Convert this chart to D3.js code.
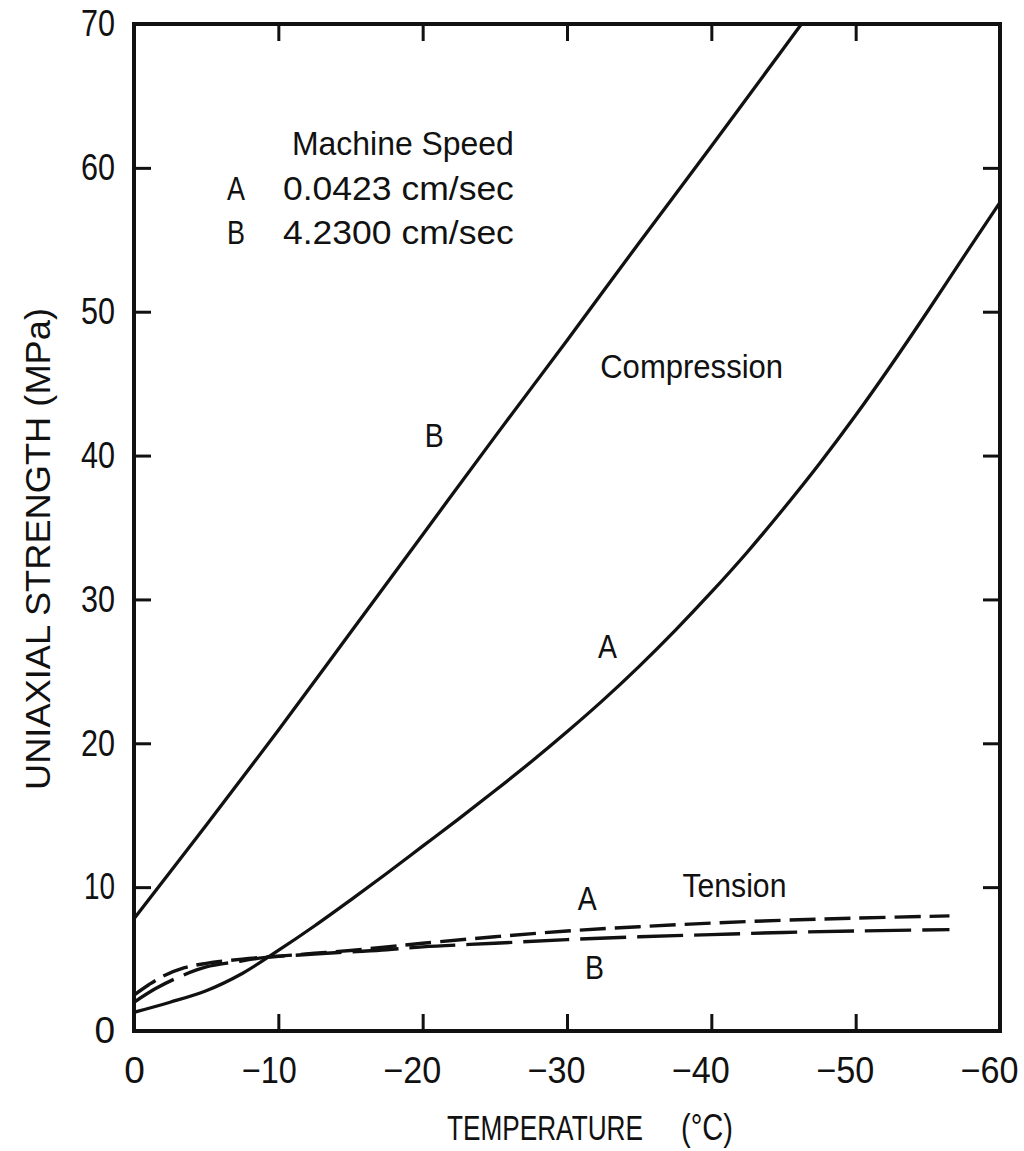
<!DOCTYPE html>
<html>
<head>
<meta charset="utf-8">
<script src="https://cdn.jsdelivr.net/npm/d3@7"></script>
<style>
  html, body { margin: 0; padding: 0; background: #fff; }
  svg { display: block; }
  text { font-family: "Liberation Sans Narrow", "Liberation Sans", Arial, sans-serif; fill: #111; }
</style>
</head>
<body>
<svg id="chart" width="1024" height="1151"></svg>
<script>
// Uniaxial strength of ice vs temperature, two machine speeds
const compressionA_T = [0, -2.5, -5, -7.5, -10, -12.5, -15, -17.5, -20, -22.5, -25, -27.5, -30, -32.5, -35, -37.5, -40, -42.5, -45, -47.5, -50, -52.5, -55, -57.5, -60];
const compressionA   = [1.3, 2.0, 2.8, 4.0, 5.6, 7.3, 9.1, 10.95, 12.85, 14.75, 16.7, 18.7, 20.8, 23.0, 25.35, 27.85, 30.5, 33.3, 36.3, 39.45, 42.8, 46.35, 50.05, 53.85, 57.6];

const compressionB_T = [0, -5, -10, -15, -20, -25, -30, -35, -40, -45, -47.5];
const compressionB   = [7.8, 14.3, 20.9, 27.7, 34.5, 41.3, 48.0, 54.8, 61.5, 68.3, 71.7];

const tensionA_T = [0, -1, -2, -3.5, -5, -7.5, -10, -12.5, -15, -17.5, -20, -25, -30, -35, -40, -45, -50, -56.5];
const tensionA   = [2.5, 3.2, 3.8, 4.4, 4.7, 5.0, 5.2, 5.4, 5.6, 5.85, 6.1, 6.55, 6.95, 7.25, 7.5, 7.7, 7.85, 8.0];

const tensionB_T = [0, -1.5, -3, -5, -7, -9, -12.5, -15, -17.5, -20, -25, -30, -35, -40, -45, -50, -56.5];
const tensionB   = [2.0, 2.95, 3.7, 4.45, 4.8, 5.1, 5.35, 5.5, 5.65, 5.85, 6.1, 6.35, 6.55, 6.7, 6.85, 6.95, 7.05];

const xTicks = [0, -10, -20, -30, -40, -50, -60];
const yTicks = [0, 10, 20, 30, 40, 50, 60, 70];

const legendTitle = "Machine Speed";
const legendRows = [["A", "0.0423  cm/sec"], ["B", "4.2300  cm/sec"]];

const svg = d3.select("#chart");
const plotL = 134, plotR = 1000, plotT = 24, plotB = 1031;

const x = d3.scaleLinear().domain([0, -60]).range([plotL, plotR]);
const y = d3.scaleLinear().domain([0, 70]).range([plotB, plotT]);

svg.append("defs").append("clipPath").attr("id", "plot")
  .append("rect").attr("x", plotL).attr("y", plotT)
  .attr("width", plotR - plotL).attr("height", plotB - plotT);

const zip = (ts, vs) => ts.map((t, i) => [t, vs[i]]);
const line = d3.line().x(d => x(d[0])).y(d => y(d[1])).curve(d3.curveCatmullRom.alpha(0.5));

const curves = svg.append("g").attr("clip-path", "url(#plot)")
  .attr("fill", "none").attr("stroke", "#111").attr("stroke-linecap", "butt");

curves.append("path").attr("d", line(zip(compressionA_T, compressionA))).attr("stroke-width", 3.3);
curves.append("path").attr("d", line(zip(compressionB_T, compressionB))).attr("stroke-width", 3.3);
curves.append("path").attr("d", line(zip(tensionA_T, tensionA)))
  .attr("stroke-width", 3.4).attr("stroke-dasharray", "26,9");
curves.append("path").attr("d", line(zip(tensionB_T, tensionB)))
  .attr("stroke-width", 3.4).attr("stroke-dasharray", "46,11");

// axes: inward ticks on all four sides
const tick = 17;
const fmtX = d => d === 0 ? "0" : "\u2212" + Math.abs(d);

const gb = svg.append("g").attr("transform", `translate(0,${plotB})`)
  .call(d3.axisBottom(x).tickValues(xTicks).tickFormat(fmtX).tickSizeInner(-tick).tickSizeOuter(0).tickPadding(26));
gb.selectAll("text")
  .attr("font-size", 37)
  .attr("text-anchor", d => d === 0 ? "middle" : "end")
  .attr("x", d => d === 0 ? 0 : 18)
  .attr("textLength", d => d === 0 ? null : (d === -10 ? 55 : 58))
  .attr("lengthAdjust", "spacingAndGlyphs");

const gl = svg.append("g").attr("transform", `translate(${plotL},0)`)
  .call(d3.axisLeft(y).tickValues(yTicks).tickSizeInner(-tick).tickSizeOuter(0).tickPadding(19));
gl.selectAll("text")
  .attr("font-size", 37)
  .attr("textLength", d => d === 0 ? null : (d === 10 ? 31 : 34))
  .attr("lengthAdjust", "spacingAndGlyphs");

svg.append("g").attr("transform", `translate(0,${plotT})`)
  .call(d3.axisTop(x).tickValues(xTicks.slice(1, -1)).tickFormat("").tickSizeInner(-tick).tickSizeOuter(0));
svg.append("g").attr("transform", `translate(${plotR},0)`)
  .call(d3.axisRight(y).tickValues(yTicks.slice(1, -1)).tickFormat("").tickSizeInner(-tick).tickSizeOuter(0));

svg.selectAll(".domain").remove();
svg.selectAll(".tick line").attr("stroke", "#111").attr("stroke-width", 3);

// frame
svg.append("rect").attr("x", plotL).attr("y", plotT)
  .attr("width", plotR - plotL).attr("height", plotB - plotT)
  .attr("fill", "none").attr("stroke", "#111").attr("stroke-width", 4);

// place a text and squeeze it horizontally to a given width
function fitted(parent, str, px, py, width, size, anchor) {
  const t = parent.append("text").attr("font-size", size)
    .attr("text-anchor", anchor || "start").text(str);
  const natural = t.node().getComputedTextLength();
  const s = width / natural;
  t.attr("transform", `translate(${px},${py}) scale(${s},1)`);
  return t;
}

// axis titles
fitted(svg, "TEMPERATURE", 447, 1140, 196, 36);
fitted(svg, "(\u00B0C)", 681, 1140, 52, 36);

svg.append("text").attr("transform", "translate(50,790) rotate(-90)").attr("font-size", 35)
  .attr("textLength", 482).attr("lengthAdjust", "spacingAndGlyphs").text("UNIAXIAL STRENGTH  (MPa)");

// legend
const lg = svg.append("g");
fitted(lg, legendTitle, 292, 155, 222, 34);
legendRows.forEach((r, i) => {
  const by = 200 + i * 44;
  fitted(lg, r[0], 227, by, 18, 34);
  fitted(lg, r[1], 283, by, 231, 34);
});

// curve annotations, positioned in data coordinates
const notes = [
  { t: "B", T: -20.8, V: 40.6, anchor: "middle", w: 19 },
  { t: "A", T: -32.8, V: 25.9, anchor: "middle", w: 19 },
  { t: "Compression", T: -32.3, V: 45.4, anchor: "start", w: 183 },
  { t: "Tension", T: -38.0, V: 9.3, anchor: "start", w: 104 },
  { t: "A", T: -31.4, V: 8.4, anchor: "middle", w: 19 },
  { t: "B", T: -31.9, V: 3.6, anchor: "middle", w: 19 }
];
const ng = svg.append("g");
notes.forEach(d => fitted(ng, d.t, x(d.T), y(d.V), d.w, 34, d.anchor));
</script>
</body>
</html>
